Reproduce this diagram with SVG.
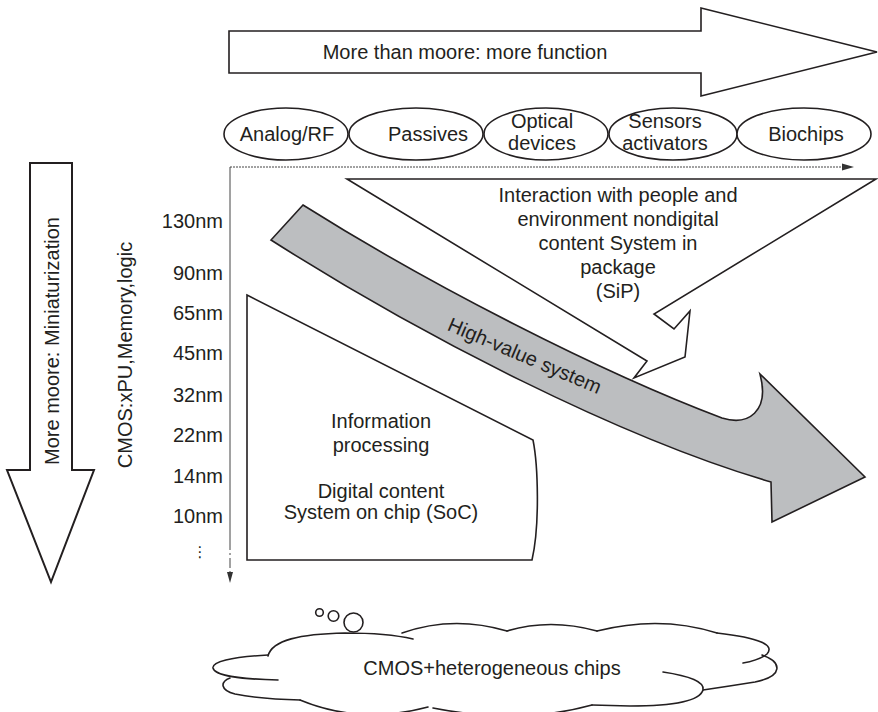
<svg xmlns="http://www.w3.org/2000/svg" width="878" height="712" viewBox="0 0 878 712">
<style>
 text{font-family:"Liberation Sans",Arial,Helvetica,sans-serif;font-size:20px;fill:#231f20}
 .c{text-anchor:middle}
 .r{text-anchor:end}
 .o{fill:#fff;stroke:#231f20;stroke-width:1.6}
 .g{fill:#bcbec0;stroke:#231f20;stroke-width:1.6;stroke-linejoin:miter}
 .cl{fill:none;stroke:#231f20;stroke-width:1.6;stroke-linecap:round}
 .ax{stroke:#444;stroke-width:1;fill:none}
</style>
<rect width="878" height="712" fill="#fff"/>

<g id="more-than-moore">
 <polygon class="o" points="229,31 701,31 701,8 877,52 701,96 701,73 229,73"/>
 <text class="c" x="465" y="59">More than moore: more function</text>
</g>

<g id="analog-rf">
 <ellipse class="o" cx="286" cy="134" rx="62" ry="26"/>
 <text class="c" x="287" y="141">Analog/RF</text>
</g>
<g id="passives">
 <ellipse class="o" cx="416" cy="134" rx="67" ry="26"/>
 <text class="c" x="428" y="141">Passives</text>
</g>
<g id="optical-devices">
 <ellipse class="o" cx="546" cy="134" rx="62" ry="26"/>
 <text class="c" x="542" y="128">Optical</text>
 <text class="c" x="542" y="150">devices</text>
</g>
<g id="sensors-activators">
 <ellipse class="o" cx="673" cy="134" rx="64" ry="26"/>
 <text class="c" x="665" y="128">Sensors</text>
 <text class="c" x="665" y="150">activators</text>
</g>
<g id="biochips">
 <ellipse class="o" cx="804" cy="134" rx="67" ry="26"/>
 <text class="c" x="806" y="141">Biochips</text>
</g>

<g id="connectors">
 <line class="ax" x1="230" y1="167" x2="845" y2="167" stroke-dasharray="2 1"/>
 <polygon points="854,167 842,163.5 842,170.5" fill="#333"/>
 <line class="ax" x1="230" y1="167" x2="230" y2="540"/>
 <line class="ax" x1="230" y1="540" x2="230" y2="574" stroke-dasharray="10 3 2 3"/>
 <polygon points="230,583 227,572 233,572" fill="#333"/>
</g>

<g id="more-moore">
 <polygon class="o" style="stroke-width:2" points="30,163 72,163 72,470 94,470 51,582 7,470 30,470"/>
 <text class="c" transform="translate(59,341) rotate(-90)">More moore: Miniaturization</text>
</g>

<g id="cmos-label">
 <text class="c" transform="translate(132,355) rotate(-90)">CMOS:xPU,Memory,logic</text>
</g>

<g id="nodes-nm">
 <text class="r" x="223" y="228">130nm</text>
 <text class="r" x="223" y="280">90nm</text>
 <text class="r" x="223" y="320">65nm</text>
 <text class="r" x="223" y="360">45nm</text>
 <text class="r" x="223" y="402">32nm</text>
 <text class="r" x="223" y="442">22nm</text>
 <text class="r" x="223" y="483">14nm</text>
 <text class="r" x="223" y="523">10nm</text>
 <text class="c" x="200" y="557" style="font-family:'DejaVu Sans',sans-serif;font-size:15px">⋮</text>
</g>

<g id="sip">
 <polygon class="o" points="347,179 876,179 654,314 674,329 690,311 685,357 634,378 647,361"/>
 <text class="c" x="618" y="202">Interaction with people and</text>
 <text class="c" x="618" y="226">environment nondigital</text>
 <text class="c" x="618" y="250">content System in</text>
 <text class="c" x="618" y="274">package</text>
 <text class="c" x="618" y="298">(SiP)</text>
</g>

<g id="high-value-system">
 <path class="g" d="M303,205 C430,285 600,372 722,418 C748,426 770,412 760,374 L865,477 L772,522 L771,482 C620,438 420,335 271,240 Z"/>
 <text class="c" transform="translate(522,362) rotate(23)">High-value system</text>
</g>

<g id="soc">
 <path class="o" d="M247,295 L533,440 C538,465 540,525 532,560 L247,560 Z"/>
 <text class="c" x="381" y="428">Information</text>
 <text class="c" x="381" y="452">processing</text>
 <text class="c" x="381" y="498">Digital content</text>
 <text class="c" x="381" y="519">System on chip (SoC)</text>
</g>

<g id="cloud">
 <circle class="cl" cx="319.5" cy="612.5" r="3.8"/>
 <circle class="cl" cx="333.5" cy="616" r="5.3"/>
 <circle class="cl" cx="353.5" cy="622.5" r="9.5"/>
 <path class="cl" d="M268,656 C272,640 300,634 345,633 C380,633 400,636 413,639"/>
 <path class="cl" d="M402,633 Q453,615 507,631"/>
 <path class="cl" d="M507,631 Q550,618 597,631"/>
 <path class="cl" d="M597,631 Q660,615 717,633"/>
 <path class="cl" d="M717,633 C760,638 775,645 767,654 Q760,660 743,663"/>
 <path class="cl" d="M762,655 C782,662 784,676 755,682 Q730,686 703,690"/>
 <path class="cl" d="M663,672 C690,676 705,682 703,690 C700,700 680,706 630,706 L592,705"/>
 <path class="cl" d="M592,705 Q520,725 433,708"/>
 <path class="cl" d="M428,707 Q360,725 300,700"/>
 <path class="cl" d="M268,655 C230,657 212,662 213,668 C215,676 240,679 278,680"/>
 <path class="cl" d="M230,678 C220,682 220,690 235,694 Q260,699 300,700"/>
 <text class="c" x="492" y="675">CMOS+heterogeneous chips</text>
</g>
</svg>
